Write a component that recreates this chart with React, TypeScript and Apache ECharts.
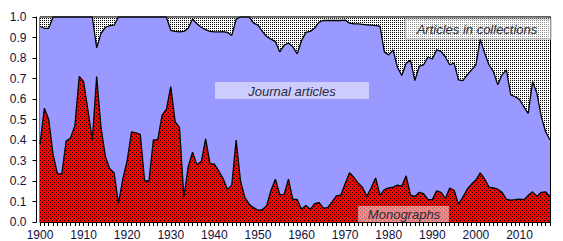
import React, { useEffect, useRef } from "react";
import * as echarts from "echarts";

const startYear = 1900;
const endYear = 2017;
const years: string[] = [];
for (let y = startYear; y <= endYear; y++) years.push(String(y));

// share of monographs (bottom layer), 1900..2017
const monographs = [
  0.38, 0.555, 0.5, 0.33, 0.235, 0.235, 0.395, 0.41, 0.47, 0.71,
  0.685, 0.545, 0.4, 0.71, 0.46, 0.32, 0.26, 0.24, 0.09, 0.21,
  0.3, 0.44, 0.435, 0.428, 0.2, 0.2, 0.4, 0.4, 0.52, 0.55,
  0.66, 0.49, 0.46, 0.12, 0.27, 0.34, 0.28, 0.295, 0.405, 0.285,
  0.282, 0.25, 0.212, 0.158, 0.18, 0.4, 0.2, 0.119, 0.087, 0.07,
  0.057, 0.06, 0.08, 0.155, 0.209, 0.134, 0.135, 0.209, 0.11, 0.11,
  0.062, 0.08, 0.062, 0.09, 0.095, 0.068, 0.07, 0.098, 0.127, 0.131,
  0.187, 0.24, 0.217, 0.19, 0.168, 0.125, 0.168, 0.215, 0.131, 0.158,
  0.166, 0.17, 0.18, 0.175, 0.225, 0.131, 0.125, 0.145, 0.138, 0.11,
  0.109, 0.152, 0.145, 0.115, 0.166, 0.155, 0.087, 0.12, 0.16, 0.185,
  0.205, 0.24, 0.21, 0.17, 0.166, 0.16, 0.145, 0.11, 0.107, 0.109,
  0.112, 0.109, 0.13, 0.147, 0.125, 0.145, 0.147, 0.123,
];

// cumulative share of monographs + journal articles, 1900..2017
const monographsPlusJournals = [
  0.955, 0.945, 0.945, 1, 1, 1, 1, 1, 1, 1,
  1, 1, 1, 0.85, 0.92, 0.95, 0.958, 0.96, 1, 1,
  1, 1, 1, 1, 1, 1, 1, 1, 1, 1,
  0.935, 0.93, 0.927, 0.93, 0.945, 0.99, 0.967, 0.95, 0.938, 0.93,
  0.927, 0.927, 0.928, 0.925, 0.91, 0.99, 1, 1, 1, 0.97,
  0.96, 0.93, 0.905, 0.892, 0.88, 0.83, 0.862, 0.873, 0.855, 0.82,
  0.885, 0.925, 0.93, 0.945, 0.975, 0.983, 0.983, 0.983, 0.983, 0.983,
  0.985, 0.97, 0.967, 0.966, 0.964, 0.962, 0.96, 0.958, 0.955, 0.83,
  0.815, 0.84, 0.755, 0.715, 0.775, 0.79, 0.69, 0.76, 0.767, 0.805,
  0.795, 0.84, 0.832, 0.805, 0.767, 0.775, 0.693, 0.69, 0.718, 0.742,
  0.767, 0.892, 0.824, 0.767, 0.735, 0.67, 0.718, 0.742, 0.62, 0.611,
  0.598, 0.562, 0.53, 0.685, 0.628, 0.514, 0.44, 0.4,
];

const journalArticles = monographsPlusJournals.map((t, i) => +(t - monographs[i]).toFixed(3));
const articlesInCollections = monographsPlusJournals.map((t) => +(1 - t).toFixed(3));

function makeTile(size: number, bg: string, dots: number[][]) {
  const c = document.createElement("canvas");
  c.width = size;
  c.height = size;
  const g = c.getContext("2d")!;
  g.fillStyle = bg;
  g.fillRect(0, 0, size, size);
  g.fillStyle = "#000";
  dots.forEach(([x, y]) => g.fillRect(x, y, 1, 1));
  return c;
}

const FONT = "Liberation Sans";
const AXIS_TEXT = "#10103c";
const LABEL_TEXT = "#2a2a3a";

function labelBox(x: number, y: number, w: number, h: number, fill: string, text: string, tx: number, ty: number, stroke?: string) {
  return [
    {
      type: "rect",
      z: 100,
      zlevel: 0,
      shape: { x, y, width: w, height: h },
      style: stroke ? { fill, stroke, lineWidth: 1 } : { fill },
    },
    {
      type: "text",
      z: 101,
      zlevel: 0,
      x: tx,
      y: ty,
      style: {
        text,
        fontFamily: FONT,
        fontSize: 13,
        fontStyle: "italic",
        fill: LABEL_TEXT,
        align: "center",
        verticalAlign: "middle",
      },
    },
  ];
}

export default function App() {
  const ref = useRef<HTMLDivElement>(null);
  useEffect(() => {
    if (!ref.current) return;
    const chart = echarts.init(ref.current, null, { renderer: "svg" });
    const redTile = makeTile(4, "#ff0000", [[0, 0], [2, 2]]);
    const dotTile = makeTile(2, "#ffffff", [[0, 0]]);

    chart.setOption({
      animation: false,
      textStyle: { fontFamily: FONT },
      grid: {
        left: 40,
        right: 13,
        top: 17,
        bottom: 19,
        show: true,
        borderColor: "#000",
        borderWidth: 1,
        backgroundColor: "transparent",
        outerBoundsMode: "none",
        containLabel: false,
      },
      xAxis: {
        type: "category",
        data: years,
        boundaryGap: false,
        splitLine: { show: false },
        axisLine: { show: true, lineStyle: { color: "#000", width: 1 } },
        axisTick: {
          show: true,
          length: 4,
          inside: false,
          interval: 0,
          lineStyle: { color: "#000", width: 1 },
        },
        axisLabel: {
          show: true,
          interval: 9,
          fontSize: 12,
          lineHeight: 12,
          color: AXIS_TEXT,
          fontFamily: FONT,
          margin: 7,
        },
      },
      yAxis: [
        {
          type: "value",
          min: 0,
          max: 1,
          interval: 0.1,
          offset: 3.5,
          splitLine: { show: false },
          axisLine: { show: true, lineStyle: { color: "#000", width: 1 } },
          axisTick: { show: true, length: 4, inside: false, lineStyle: { color: "#000" } },
          axisLabel: {
            formatter: (v: number) => v.toFixed(1),
            fontSize: 12,
            color: AXIS_TEXT,
            fontFamily: FONT,
            margin: 10,
          },
        },
        {
          type: "value",
          position: "right",
          min: 0,
          max: 1,
          interval: 0.1,
          splitLine: { show: false },
          axisLine: { show: true, lineStyle: { color: "#000", width: 1 } },
          axisTick: { show: true, length: 4, inside: true, lineStyle: { color: "#000" } },
          axisLabel: { show: false },
        },
      ],
      series: [
        {
          name: "Monographs",
          type: "line",
          stack: "share",
          data: monographs,
          symbol: "none",
          lineStyle: { color: "#000", width: 1.3 },
          areaStyle: { color: { image: redTile, repeat: "repeat", imageWidth: 4, imageHeight: 4 }, opacity: 1 },
          z: 4,
        },
        {
          name: "Journal articles",
          type: "line",
          stack: "share",
          data: journalArticles,
          symbol: "none",
          lineStyle: { color: "#000", width: 1.3 },
          areaStyle: { color: "#9999ff", opacity: 1 },
          z: 3,
        },
        {
          name: "Articles in collections",
          type: "line",
          stack: "share",
          data: articlesInCollections,
          symbol: "none",
          lineStyle: { color: "#000", width: 1 },
          areaStyle: { color: { image: dotTile, repeat: "repeat", imageWidth: 2, imageHeight: 2 }, opacity: 1 },
          z: 2,
        },
      ],
      graphic: {
        elements: [
          ...labelBox(405, 19, 146, 20, "rgba(255,255,255,0.55)", "Articles in collections", 477, 29, "#aaaaaa"),
          ...labelBox(215, 82, 154, 17, "#ccccff", "Journal articles", 292, 91),
          ...labelBox(358, 206, 91, 16, "rgba(255,255,255,0.5)", "Monographs", 404, 214),
        ],
      },
    });
    return () => chart.dispose();
  }, []);

  return (
    <div
      ref={ref}
      style={{ position: "fixed", left: 0, top: 0, width: 563, height: 241, background: "#fff" }}
    />
  );
}
